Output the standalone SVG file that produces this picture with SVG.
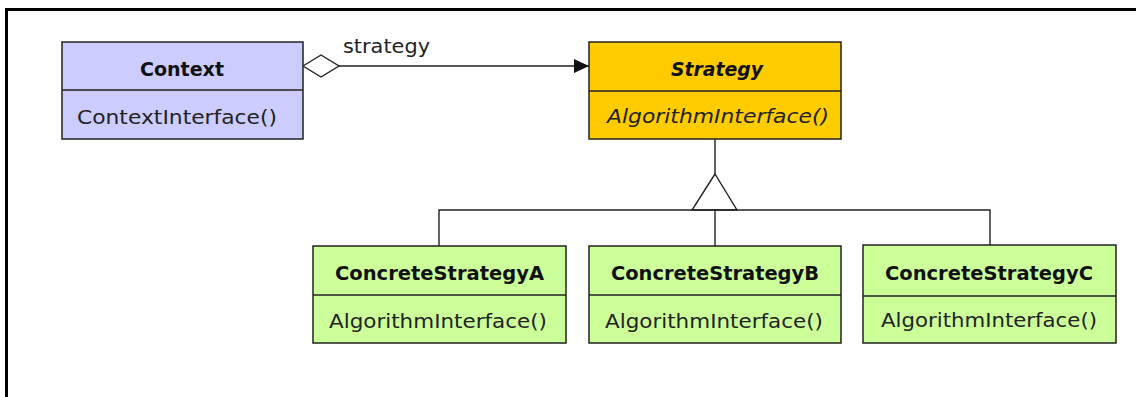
<svg xmlns="http://www.w3.org/2000/svg" width="1136" height="397" viewBox="0 0 1136 397">
<style>
.box{stroke:#222;stroke-width:1.5}
.ctx{fill:#ccccff}
.str{fill:#ffcc00}
.con{fill:#ccff99}
.div{stroke:#222;stroke-width:1.5}
.name{font-family:"DejaVu Sans","Liberation Sans",sans-serif;font-size:19px;font-weight:bold;fill:#111}
.op{font-family:"DejaVu Sans","Liberation Sans",sans-serif;font-size:19px;fill:#222}
.it{font-style:italic}
.ln{stroke:#222;stroke-width:1.4;fill:none}
.lbl{font-family:"DejaVu Sans","Liberation Sans",sans-serif;font-size:19px;fill:#222}
</style>
<defs>
<marker id="arrow" markerWidth="16" markerHeight="14" refX="15" refY="7" orient="auto" markerUnits="userSpaceOnUse">
<polygon points="0,0 15,7 0,14" fill="#111"/>
</marker>
</defs>
<rect x="0" y="0" width="1136" height="397" fill="#fff"/>
<path d="M6.5,397 V9.5 H1136" fill="none" stroke="#000" stroke-width="3"/>
<g id="connectors">
<polygon class="ln" points="303,66 321,55 339,66 321,77" style="fill:#fff"/>
<line class="ln" x1="339" y1="66" x2="589" y2="66" marker-end="url(#arrow)"/>
<text class="lbl" x="343" y="53" textLength="87" lengthAdjust="spacingAndGlyphs">strategy</text>
<line class="ln" x1="715" y1="139" x2="715" y2="174"/>
<polygon class="ln" points="715,174 692,210 737,210" style="fill:#fff"/>
<polyline class="ln" points="439,246 439,210 990,210 990,245"/>
<line class="ln" x1="715" y1="210" x2="715" y2="246"/>
</g>
<g id="context">
<rect class="box ctx" x="62" y="42" width="241" height="97"/>
<line class="div" x1="62" y1="90" x2="303" y2="90"/>
<text class="name" x="140" y="76" textLength="84" lengthAdjust="spacingAndGlyphs">Context</text>
<text class="op" x="77" y="124" textLength="200" lengthAdjust="spacingAndGlyphs">ContextInterface()</text>
</g>
<g id="strategy">
<rect class="box str" x="589" y="42" width="252" height="97"/>
<line class="div" x1="589" y1="91" x2="841" y2="91"/>
<text class="name it" x="671" y="76" textLength="92" lengthAdjust="spacingAndGlyphs">Strategy</text>
<text class="op it" x="607" y="123" textLength="222" lengthAdjust="spacingAndGlyphs">AlgorithmInterface()</text>
</g>
<g id="concreteA">
<rect class="box con" x="313" y="246" width="253" height="97"/>
<line class="div" x1="313" y1="295" x2="566" y2="295"/>
<text class="name" x="335" y="280" textLength="209" lengthAdjust="spacingAndGlyphs">ConcreteStrategyA</text>
<text class="op" x="329" y="328" textLength="218" lengthAdjust="spacingAndGlyphs">AlgorithmInterface()</text>
</g>
<g id="concreteB">
<rect class="box con" x="589" y="246" width="252" height="97"/>
<line class="div" x1="589" y1="295" x2="841" y2="295"/>
<text class="name" x="611" y="280" textLength="208" lengthAdjust="spacingAndGlyphs">ConcreteStrategyB</text>
<text class="op" x="605" y="328" textLength="218" lengthAdjust="spacingAndGlyphs">AlgorithmInterface()</text>
</g>
<g id="concreteC">
<rect class="box con" x="863" y="245" width="253" height="98"/>
<line class="div" x1="863" y1="296" x2="1116" y2="296"/>
<text class="name" x="885" y="280" textLength="208" lengthAdjust="spacingAndGlyphs">ConcreteStrategyC</text>
<text class="op" x="881" y="327" textLength="216" lengthAdjust="spacingAndGlyphs">AlgorithmInterface()</text>
</g>
</svg>
